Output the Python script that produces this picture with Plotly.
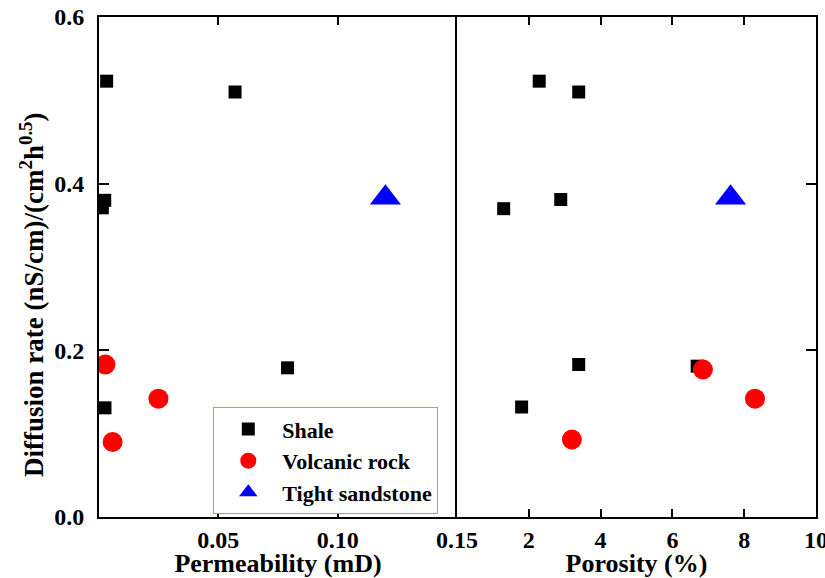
import plotly.graph_objects as go

# ---- data ----
shale_perm = [0.0032, 0.057, 0.0024, 0.0014, 0.079, 0.0025]
shale_rate_perm = [0.523, 0.510, 0.380, 0.371, 0.179, 0.131]
shale_por = [2.29, 3.39, 2.89, 1.30, 3.39, 1.80, 6.69]
shale_rate_por = [0.523, 0.510, 0.381, 0.370, 0.183, 0.132, 0.181]

volc_perm = [0.0027, 0.0249, 0.0057]
volc_rate_perm = [0.183, 0.142, 0.090]
volc_por = [6.85, 8.30, 3.20]
volc_rate_por = [0.177, 0.142, 0.093]

sand_perm = [0.120]
sand_por = [7.62]
sand_rate = [0.383]

x1_ticks = [0.05, 0.10, 0.15]
x1_text = ["0.05", "0.10", "0.15"]
x2_ticks = [2, 4, 6, 8, 10]
y_ticks = [0.0, 0.2, 0.4, 0.6]
y_text = ["0.0", "0.2", "0.4", "0.6"]

FONT = "Liberation Serif, Times New Roman, serif"
sq = dict(symbol="square", size=13, color="black")
ci = dict(symbol="circle", size=20, color="red")
tr = dict(symbol="triangle-up", size=27, color="blue")

fig = go.Figure()
fig.add_trace(go.Scatter(x=shale_perm, y=shale_rate_perm, mode="markers", marker=sq,
                         name="Shale", legendgroup="s", xaxis="x", yaxis="y"))
fig.add_trace(go.Scatter(x=volc_perm, y=volc_rate_perm, mode="markers", marker=ci,
                         name="Volcanic rock", legendgroup="v", xaxis="x", yaxis="y"))
fig.add_trace(go.Scatter(x=sand_perm, y=sand_rate, mode="markers", marker=tr,
                         name="Tight sandstone", legendgroup="t", xaxis="x", yaxis="y"))
fig.add_trace(go.Scatter(x=shale_por, y=shale_rate_por, mode="markers", marker=sq,
                         name="Shale", legendgroup="s", showlegend=False, xaxis="x2", yaxis="y2"))
fig.add_trace(go.Scatter(x=volc_por, y=volc_rate_por, mode="markers", marker=ci,
                         name="Volcanic rock", legendgroup="v", showlegend=False, xaxis="x2", yaxis="y2"))
fig.add_trace(go.Scatter(x=sand_por, y=sand_rate, mode="markers", marker=tr,
                         name="Tight sandstone", legendgroup="t", showlegend=False, xaxis="x2", yaxis="y2"))

tickfont = dict(family=FONT, size=24, color="black", weight="bold")
titlefont = dict(family=FONT, size=26, color="black", weight="bold")
common = dict(showline=True, linecolor="black", linewidth=2,
              ticks="inside", tickwidth=1.5, tickcolor="black",
              showgrid=False, zeroline=False, tickfont=tickfont, automargin=False,
              ticklabeloverflow="allow")

split = 358 / 717
fig.update_layout(
    width=825, height=578,
    margin=dict(l=99, r=9, t=17, b=61),
    paper_bgcolor="white", plot_bgcolor="white",
    font=dict(family=FONT, weight="bold", color="black"),
    showlegend=True,
    legend=dict(x=0.1594, y=0.2194, xanchor="left", yanchor="top",
                bordercolor="#33ee33", borderwidth=1, bgcolor="white",
                font=dict(family=FONT, size=22, color="black", weight="bold"),
                itemwidth=58, tracegroupgap=0),
    xaxis=dict(domain=[0, split], range=[0, 0.15], tickvals=x1_ticks, ticktext=x1_text,
               title=dict(text="Permeability (mD)", font=titlefont, standoff=0),
               anchor="y", mirror="ticks", ticklen=8, **common),
    xaxis2=dict(domain=[split, 1], range=[0, 10], tickvals=x2_ticks,
                title=dict(text="Porosity (%)", font=titlefont, standoff=0),
                anchor="y2", mirror="ticks", ticklen=8, **common),
    yaxis=dict(domain=[0, 1], range=[0, 0.6], tickvals=y_ticks, ticktext=y_text,
               anchor="x", ticklabelstandoff=8, mirror=False, ticklen=10, **common),
    yaxis2=dict(domain=[0, 1], range=[0, 0.6], tickvals=y_ticks, matches="y",
                side="right", showticklabels=False, anchor="x2", mirror=True,
                ticklen=10, **common),
    annotations=[dict(text="Diffusion rate (nS/cm)/(cm<sup>2</sup>h<sup>0.5</sup>)",
                      textangle=-90, xref="paper", yref="paper",
                      x=(32 - 99) / 717, y=(517 - 295) / 500,
                      xanchor="center", yanchor="middle", showarrow=False,
                      font=dict(family=FONT, size=27, color="black", weight="bold"))],
)

fig.write_html("out.html")
